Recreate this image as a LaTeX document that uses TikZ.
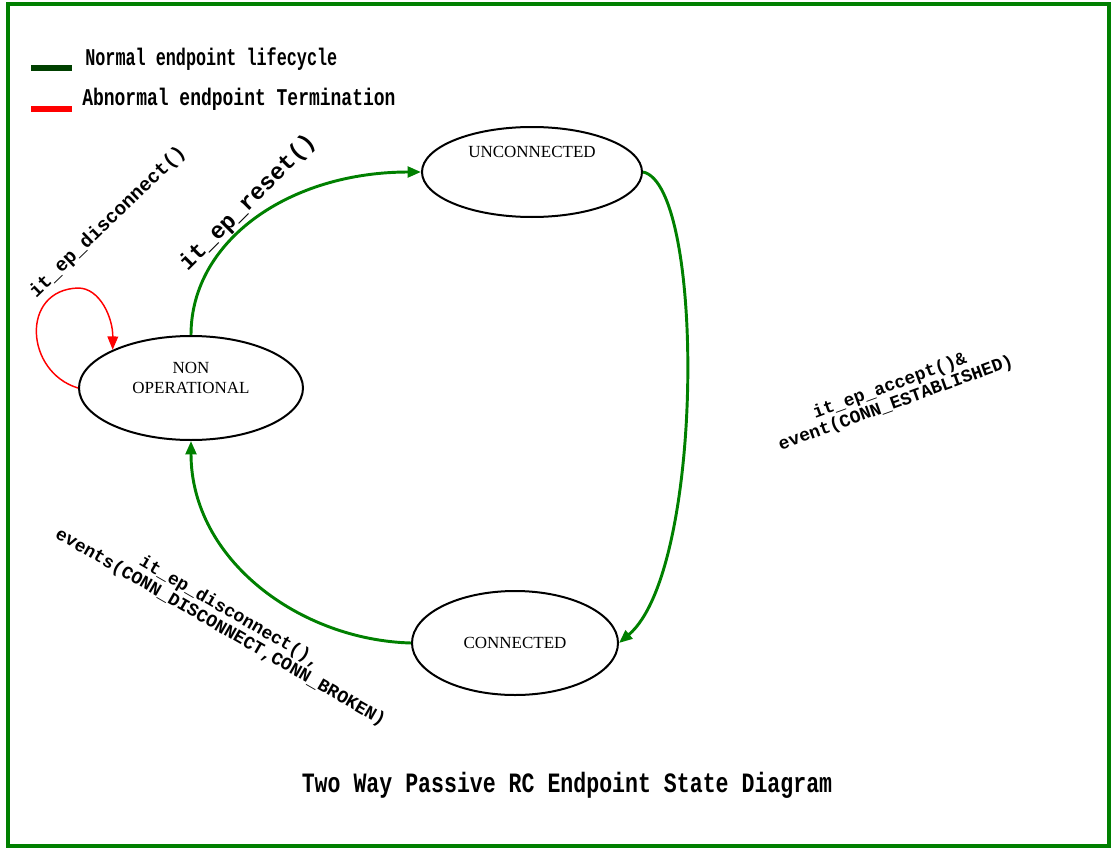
\documentclass[tikz,border=0pt]{standalone}
\usepackage{fontspec}
\setmainfont{Liberation Serif}
\setmonofont{Liberation Mono}
\usepackage{graphicx}
\usepackage{tikz}
\usetikzlibrary{positioning, shapes.geometric, arrows.meta}
\usepackage{xcolor}
\definecolor{edgegreen}{RGB}{0,128,0}
\definecolor{legendgreen}{RGB}{0,64,0}

\begin{document}
\begin{tikzpicture}[x=0.75pt, y=-0.75pt,
    state/.style={draw, ellipse, line width=1.5pt, inner sep=0pt},
    statetext/.style={font=\fontsize{12.75}{15}\selectfont, align=center, inner sep=0pt},
    normal/.style={draw=edgegreen, line width=2.2pt, -{Triangle[length=10pt,width=8pt]}},
    abnormal/.style={draw=red, line width=1.1pt, -{Triangle[length=10pt,width=8pt]}},
    evlabel/.style={font=\ttfamily\bfseries\fontsize{13.5}{11.5}\selectfont, align=center, inner sep=0pt},
    legendtext/.style={font=\ttfamily\bfseries\fontsize{18}{18}\selectfont, anchor=west, inner sep=0pt}]
            \useasboundingbox (0,0) rectangle (1113,849);
            \draw[edgegreen, line width=3pt] (8,4) rectangle (1109,846);

            % legend
            \coordinate (lg1a) at (31,68);
            \coordinate (lg1b) at (72,68);
            \draw[legendgreen, line width=4pt] (lg1a) -- (lg1b);
            \node[legendtext] (lgnormal) at (85,59) {\scalebox{0.7}[1]{Normal endpoint lifecycle}};

            \coordinate (lg2a) at (31,109);
            \coordinate (lg2b) at (72,109);
            \draw[red, line width=4pt] (lg2a) -- (lg2b);
            \node[legendtext] (lgabnormal) at (82,99) {\scalebox{0.75}[1]{Abnormal endpoint Termination}};

            % states
            \node[state, minimum width=165pt, minimum height=67.5pt] (unconn) at (532,172) {};
            \node[statetext] (unconntxt) at (532,152) {UNCONNECTED};

            \node[state, minimum width=168pt, minimum height=78pt] (nonop) at (191,388) {};
            \node[statetext] (nonoptxt) at (191,378) {NON\\OPERATIONAL};

            \node[state, minimum width=154.5pt, minimum height=78pt] (conn) at (515,643) {};
            \node[statetext] (conntxt) at (515,643) {CONNECTED};

            % transitions
            \draw[normal] (nonop.north) .. controls (191,240) and (290,172) .. (unconn.west);
            \draw[normal] (unconn.east) .. controls (705,185) and (705,570) .. (conn.east);
            \draw[normal] (conn.west) .. controls (300,640) and (191,560) .. (nonop.south);
            \draw[abnormal] (nonop.west) .. controls (25,372) and (20,290) .. (78,288)
                .. controls (100,288) and (113,318) .. (nonop.154);

            % labels
            \node[evlabel, rotate=44, font=\ttfamily\bfseries\fontsize{14.5}{12}\selectfont] (lbldisc) at (108,222) {it\_ep\_disconnect()};
            \node[evlabel, rotate=45, font=\ttfamily\bfseries\fontsize{17.5}{14}\selectfont] (lblreset) at (248,203) {it\_ep\_reset()};
            \node[evlabel, rotate=20] (lblaccept) at (893,395) {it\_ep\_accept()\&\\event(CONN\_ESTABLISHED)};
            \node[evlabel, rotate=-30] (lblbroken) at (225,620) {it\_ep\_disconnect(),\\events(CONN\_DISCONNECT,CONN\_BROKEN)};

            \node[font=\ttfamily\bfseries\fontsize{21}{21}\selectfont, inner sep=0pt] (title) at (567,785)
                {\scalebox{0.77}[1]{Two Way Passive RC Endpoint State Diagram}};
        \end{tikzpicture}
\end{document}
